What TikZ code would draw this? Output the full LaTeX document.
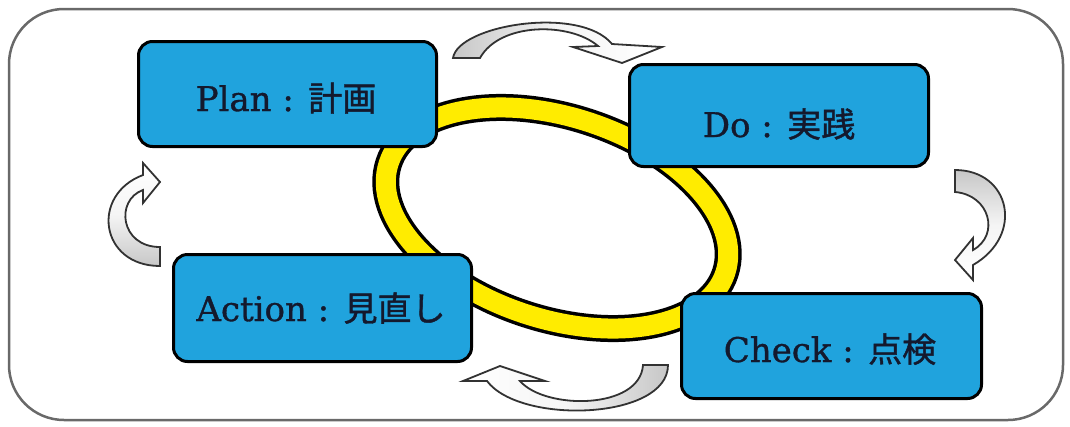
\documentclass[tikz,border=0pt]{standalone}
\usepackage{fontspec}
\setmainfont[FakeBold=1]{DejaVu Serif}
\newfontfamily\cjk[FakeBold=1.2]{Noto Sans CJK JP}
\definecolor{boxblue}{RGB}{32,163,221}
\definecolor{ringyellow}{RGB}{255,236,0}
\definecolor{framegray}{RGB}{105,105,105}
\definecolor{arrowline}{RGB}{50,50,50}
\definecolor{txt}{RGB}{20,25,45}
\begin{document}
\begin{tikzpicture}[x=1pt,y=-1pt,
  pdcabox/.style={draw=black, line width=3pt, fill=boxblue, rounded corners=14pt, inner sep=0pt},
  pdcatext/.style={anchor=base, text=txt, font=\fontsize{34}{40}\selectfont, inner sep=0pt},
  cyclearrow/.style={draw=arrowline, line width=1.8pt, line join=miter}]
\useasboundingbox (0,0) rectangle (1070,426);
\draw[framegray, line width=2.5pt, rounded corners=55pt] (9,9) rectangle (1063,420);
% ring
\begin{scope}[shift={(557,218)}, rotate=-18]
  \draw[black, line width=27pt] (0,0) ellipse [x radius=177, y radius=101];
  \draw[ringyellow, line width=20pt] (0,0) ellipse [x radius=177, y radius=101];
\end{scope}
% boxes
\node[pdcabox, minimum width=298pt, minimum height=105pt] (plan) at (287.5,94) {};
\node[pdcabox, minimum width=299pt, minimum height=102pt] (do) at (779,115.5) {};
\node[pdcabox, minimum width=298pt, minimum height=107pt] (action) at (322.5,308) {};
\node[pdcabox, minimum width=300pt, minimum height=105pt] (check) at (831.5,346) {};
% texts
\node[pdcatext] (plantext) at (286,111) {Plan : {\cjk 計画}};
\node[pdcatext] (dotext) at (779,137) {Do : {\cjk 実践}};
\node[pdcatext] (actiontext) at (321,321) {Action : {\cjk 見直し}};
\node[pdcatext] (checktext) at (830,362) {Check : {\cjk 点検}};
% curved arrows
\shadedraw[cyclearrow, left color=black!22, right color=white, middle color=black!4]
  (453,58) .. controls (458,25) and (580,5) .. (612,44) -- (662,47) -- (622,63) -- (573,47) -- (598,46)
  .. controls (570,22) and (500,22) .. (480,58) -- cycle;
\shadedraw[cyclearrow, top color=black!22, bottom color=white, middle color=black!4]
  (955,170) .. controls (1010,170) and (1025,235) .. (973,265) -- (973,280) -- (955,260) -- (973,238) -- (973,250)
  .. controls (1000,235) and (990,195) .. (955,192) -- cycle;
\shadedraw[cyclearrow, right color=black!22, left color=white, middle color=black!4]
  (668,365) .. controls (668,420) and (520,425) .. (487,381) -- (463,381) -- (500,366) -- (545,381) -- (520,381)
  .. controls (545,410) and (640,410) .. (643,365) -- cycle;
\shadedraw[cyclearrow, bottom color=black!22, top color=white, middle color=black!4]
  (160,266) .. controls (100,266) and (90,195) .. (143,175) -- (143,163) -- (160,182) -- (143,203) -- (143,190)
  .. controls (115,200) and (120,247) .. (160,247) -- cycle;
\end{tikzpicture}
\end{document}
